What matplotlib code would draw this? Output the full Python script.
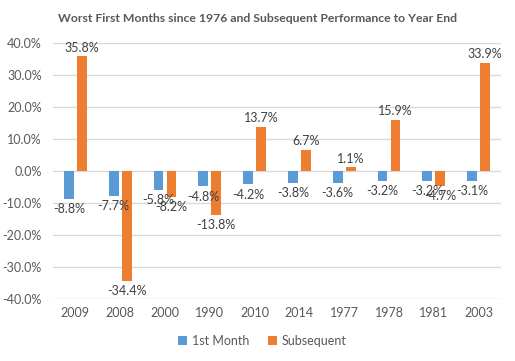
import numpy as np
import matplotlib
matplotlib.use("Agg")
import matplotlib.pyplot as plt

years = ["2009", "2008", "2000", "1990", "2010", "2014", "1977", "1978", "1981", "2003"]
first_month = [-8.8, -7.7, -5.8, -4.8, -4.2, -3.8, -3.6, -3.2, -3.2, -3.1]
subsequent = [35.8, -34.4, -8.2, -13.8, 13.7, 6.7, 1.1, 15.9, -4.7, 33.9]

blue = "#5B9BD5"
orange = "#ED7D31"
grey = "#595959"

plt.rcParams['font.family'] = ['Lato', 'DejaVu Sans']

fig = plt.figure(figsize=(5.15, 3.61), dpi=100)
ax = fig.add_axes([53 / 515, 1 - 299 / 361, 448 / 515, 256 / 361])

x = np.arange(len(years))
w = 0.223
off = 0.145
b1 = ax.bar(x - off, first_month, w, color=blue, label="1st Month", zorder=3)
b2 = ax.bar(x + off, subsequent, w, color=orange, label="Subsequent", zorder=3)

# value labels above positive bars, below negative ones (overlaps as in the original)
for bars, vals in [(b1, first_month), (b2, subsequent)]:
    for rect, v in zip(bars, vals):
        cx = rect.get_x() + rect.get_width() / 2
        if v >= 0:
            ax.annotate(f"{v:.1f}%", (cx, v), xytext=(0, 2), textcoords="offset points",
                        ha="center", va="bottom", fontsize=9, color="#404040")
        else:
            ax.annotate(f"{v:.1f}%", (cx, v), xytext=(0, -3), textcoords="offset points",
                        ha="center", va="top", fontsize=9, color="#404040")

ax.set_xlim(-0.5, len(years) - 0.5)
ax.set_ylim(-40, 40)
ax.set_yticks(np.arange(-40, 41, 10))
ax.set_yticklabels([f"{t:.1f}%" for t in np.arange(-40, 41, 10)])
ax.set_xticks(x)
ax.set_xticklabels(years)
ax.tick_params(axis="both", length=0, colors=grey, labelsize=9)
ax.tick_params(axis="y", pad=8)
ax.tick_params(axis="x", pad=6)
ax.grid(axis="y", color="#D9D9D9", linewidth=1, zorder=0)
for s in ax.spines.values():
    s.set_visible(False)

fig.suptitle("Worst First Months since 1976 and Subsequent Performance to Year End",
             x=257 / 515, y=1 - 18 / 361, va="center", fontsize=8.8, fontweight="bold", color=grey)

fig.legend(handles=[b1, b2], loc="center", bbox_to_anchor=(0.51, 1 - 341 / 361), ncol=2,
           frameon=False, fontsize=9, handlelength=0.7, handleheight=0.7,
           handletextpad=0.4, columnspacing=1.5, labelcolor=grey)

fig.savefig("out.png", dpi=100)
